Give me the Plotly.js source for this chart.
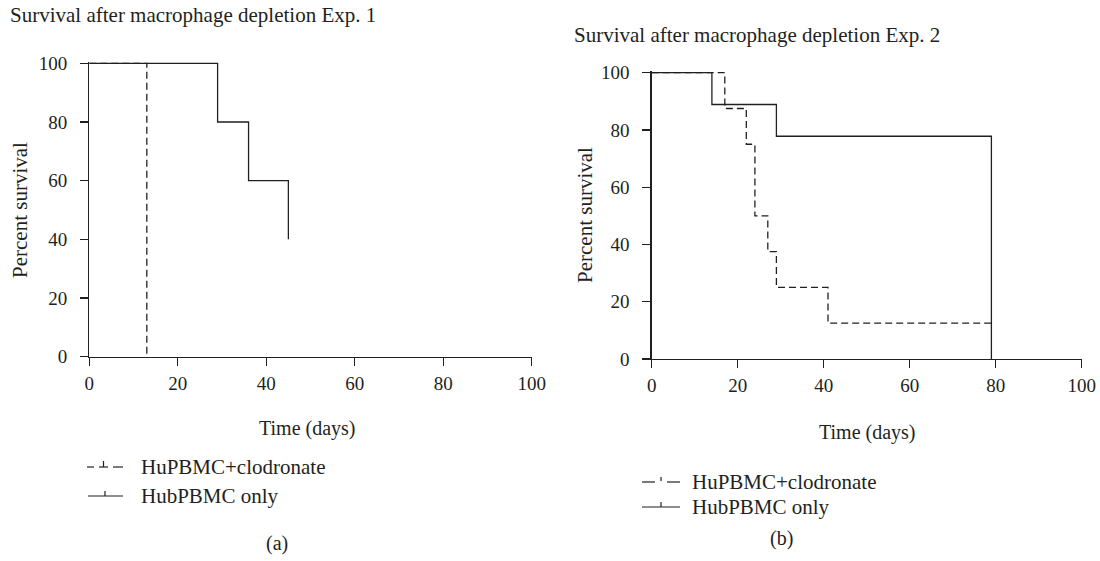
<!DOCTYPE html>
<html>
<head>
<meta charset="utf-8">
<script src="https://cdn.plot.ly/plotly-3.0.1.min.js"></script>
<style>html,body{margin:0;padding:0;background:#fff;}#chart{width:1100px;height:561px;}</style>
</head>
<body>
<div id="chart"></div>
<script>
// ---- Data ----
const seriesNames = ["HuPBMC+clodronate", "HubPBMC only"];
const exp1Title = "Survival after macrophage depletion Exp. 1";
const exp2Title = "Survival after macrophage depletion Exp. 2";
const xTickVals = [0, 20, 40, 60, 80, 100];
const yTickVals = [0, 20, 40, 60, 80, 100];

const exp1ClodDays = [0, 13];
const exp1ClodSurv = [100, 0];
const exp1OnlyDays = [0, 29, 36, 45];
const exp1OnlySurv = [100, 80, 60, 40];

const exp2ClodDays = [0, 17, 22, 24, 27, 29, 41, 79];
const exp2ClodSurv = [100, 87.5, 75, 50, 37.5, 25, 12.5, 12.5];
const exp2OnlyDays = [0, 14, 29, 79];
const exp2OnlySurv = [100, 88.9, 77.8, 0];

// ---- Styling ----
const W = 1100, H = 561;
const INK = "#231f20";
const FONT = "Liberation Serif, Times New Roman, serif";
const FS = 21;
const TFS = 19;
const px = x => x / W;
const py = y => 1 - y / H;

const solid = {color: INK, width: 1.3, shape: "hv"};
const dashed = {color: INK, width: 1.3, shape: "hv", dash: "7px,4px"};

const traces = [
  {x: exp1ClodDays, y: exp1ClodSurv, mode: "lines", line: dashed, xaxis: "x", yaxis: "y", name: seriesNames[0], showlegend: false},
  {x: exp1OnlyDays, y: exp1OnlySurv, mode: "lines", line: solid, xaxis: "x", yaxis: "y", name: seriesNames[1], showlegend: false},
  {x: exp2ClodDays, y: exp2ClodSurv, mode: "lines", line: dashed, xaxis: "x2", yaxis: "y2", name: seriesNames[0], showlegend: false},
  {x: exp2OnlyDays, y: exp2OnlySurv, mode: "lines", line: solid, xaxis: "x2", yaxis: "y2", name: seriesNames[1], showlegend: false}
];

function axisBase(anchor, domain, range, vals, standoff) {
  return {
    anchor: anchor, domain: domain, range: range, autorange: false,
    showgrid: false, zeroline: false, showline: true, linecolor: INK, linewidth: 1.3,
    ticks: "outside", ticklen: 8, tickwidth: 1.3, tickcolor: INK,
    tickmode: "array", tickvals: vals, ticklabelstandoff: standoff,
    tickfont: {family: FONT, size: TFS, color: INK}, fixedrange: true
  };
}

// panel (a): x 0->89.3px, 100->531.7px ; y 0->356.7px, 100->63.3px
// panel (b): x 0->651.7px, 100->1081.7px ; y 0->359px, 100->72.7px
const yTopA = 356.7 - (356.7 - 63.3) * 1.006;
const yTopB = 359 - (359 - 72.7) * 1.006;

function label(text, x, y, opts) {
  return Object.assign({text: text, x: px(x), y: py(y), xref: "paper", yref: "paper",
    xanchor: "left", yanchor: "middle", showarrow: false,
    font: {family: FONT, size: FS, color: INK}}, opts || {});
}
function seg(x0, y0, x1, y1) {
  return {type: "line", xref: "paper", yref: "paper", x0: px(x0), x1: px(x1), y0: py(y0), y1: py(y1), line: {color: INK, width: 1.2}};
}
const f20 = {font: {family: FONT, size: 20, color: INK}, xanchor: "center"};

const layout = {
  width: W, height: H,
  margin: {l: 0, r: 0, t: 0, b: 0},
  paper_bgcolor: "#fff", plot_bgcolor: "#fff",
  showlegend: false,
  font: {family: FONT, size: FS, color: INK},
  xaxis: axisBase("y", [px(89.3), px(531.7)], [0, 100], xTickVals, 1),
  yaxis: axisBase("x", [py(356.7), py(yTopA)], [0, 100.6], yTickVals, 9),
  xaxis2: axisBase("y2", [px(651.7), px(1081.7)], [0, 100], xTickVals, 1),
  yaxis2: axisBase("x2", [py(359), py(yTopB)], [0, 100.6], yTickVals, 9),
  annotations: [
    label(exp1Title, 8, 15),
    label(exp2Title, 572, 35),
    label("Percent survival", 20, 210, {textangle: -90, xanchor: "center"}),
    label("Percent survival", 585, 215, {textangle: -90, xanchor: "center"}),
    label("Time (days)", 307, 428, f20),
    label("Time (days)", 867, 432, f20),
    label(seriesNames[0], 139, 467),
    label(seriesNames[1], 139, 496),
    label(seriesNames[0], 690, 482),
    label(seriesNames[1], 690, 507),
    label("(a)", 277, 543, f20),
    label("(b)", 781, 538, f20)
  ],
  shapes: [
    // legend (a) samples
    seg(87, 467, 94, 467), seg(99, 467, 108, 467), seg(103.5, 461, 103.5, 467), seg(113, 467, 123, 467),
    seg(88, 496, 123, 496), seg(105, 491, 105, 496),
    // legend (b) samples
    seg(642, 482, 655, 482), seg(661, 477, 661, 481), seg(667, 482, 680, 482),
    seg(642, 507, 680, 507), seg(661, 502, 661, 507)
  ]
};

Plotly.newPlot("chart", traces, layout, {displayModeBar: false, staticPlot: true});
</script>
</body>
</html>
